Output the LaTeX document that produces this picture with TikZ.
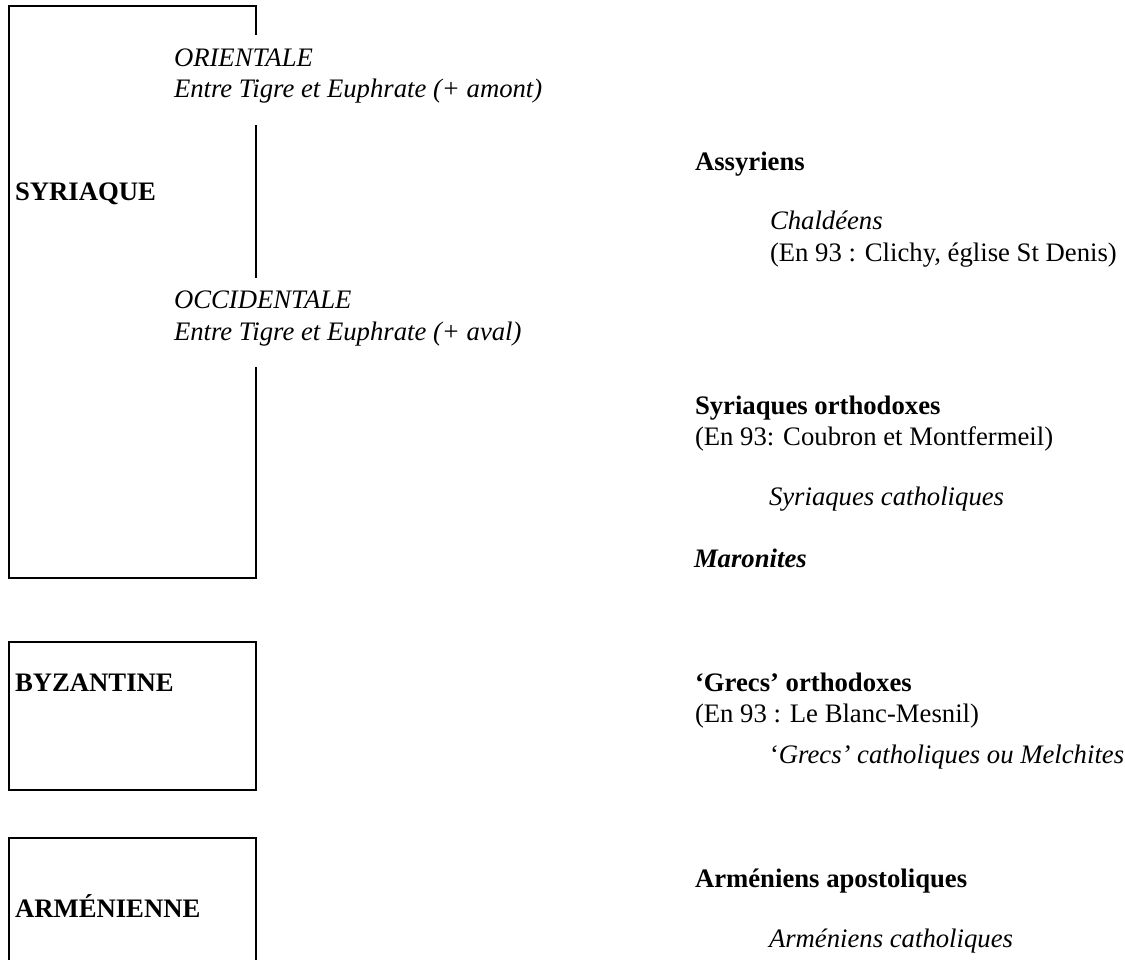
\documentclass[tikz,border=0pt]{standalone}
\usepackage{fontspec}
\setmainfont{Liberation Serif}
\begin{document}
\begin{tikzpicture}[x=1pt,y=-1pt,
  txt/.style={anchor=base west,inner sep=0pt,outer sep=0pt,font=\fontsize{26.7}{31}\selectfont},
  it/.style={txt,font=\fontsize{26.7}{31}\selectfont\itshape},
  bf/.style={txt,font=\fontsize{26.7}{31}\selectfont\bfseries},
  bi/.style={txt,font=\fontsize{26.7}{31}\selectfont\bfseries\itshape},
  frame/.style={line width=2pt,line cap=rect,line join=miter}]
\useasboundingbox (0,0) rectangle (1125,959);
% Syriaque frame
\draw[frame] (256,34) -- (256,6) -- (9,6) -- (9,578) -- (256,578) -- (256,368);
\draw[frame] (256,126) -- (256,277);
% Byzantine frame
\draw[frame] (9,642) rectangle (256,790);
% Armenian frame
\draw[frame] (9,970) -- (9,838) -- (256,838) -- (256,970);
% left texts
\node[bf] (syr) at (15,200) {SYRIAQUE};
\node[it] (ori) at (174,66) {ORIENTALE};
\node[it] (oriB) at (174,97) {Entre Tigre et Euphrate (+ amont)};
\node[it] (occ) at (174,308) {OCCIDENTALE};
\node[it] (occB) at (174,340) {Entre Tigre et Euphrate (+ aval)};
\node[bf] (byz) at (15,691) {BYZANTINE};
\node[bf] (arm) at (15,917) {ARMÉNIENNE};
% right texts
\node[bf] (assy) at (695,170) {Assyriens};
\node[it] (chal) at (770,229) {Chaldéens};
\node[txt] (chalB) at (770,261) {(En 93 : Clichy, église St Denis)};
\node[bf] (syro) at (695,414) {Syriaques orthodoxes};
\node[txt] (syroB) at (695,445) {(En 93: Coubron et Montfermeil)};
\node[it] (syrc) at (769,505) {Syriaques catholiques};
\node[bi] (maro) at (694,567) {Maronites};
\node[bf] (greo) at (695,691) {‘Grecs’ orthodoxes};
\node[txt] (greoB) at (695,722) {(En 93 : Le Blanc-Mesnil)};
\node[it] (grec) at (770,763) {{\upshape‘}Grecs’ catholiques ou Melchites};
\node[bf] (arma) at (695,887) {Arméniens apostoliques};
\node[it] (armc) at (769,947) {Arméniens catholiques};
\end{tikzpicture}
\end{document}
